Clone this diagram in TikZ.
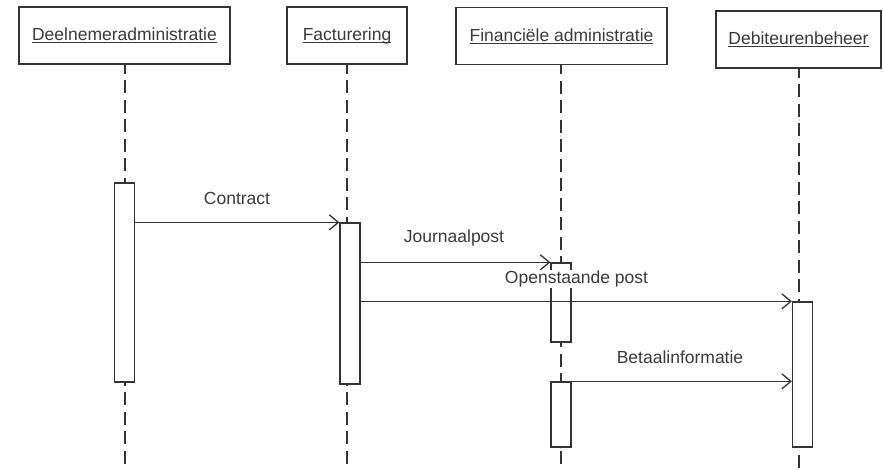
\documentclass[tikz,border=0pt]{standalone}
\usepackage{fontspec}
\setmainfont{Liberation Sans}
\usetikzlibrary{arrows.meta}
\definecolor{ink}{HTML}{333333}
\definecolor{txt}{HTML}{3A3A3A}
\newcommand\ulx[1]{\setbox0\hbox{#1}\rlap{\rule[-2.6pt]{\wd0}{1pt}}\box0}
\tikzset{
  head/.style={draw=ink, line width=1.3pt, fill=white, minimum height=57pt, inner sep=0pt, text=txt, font=\fontsize{17.5}{20}\selectfont},
  life/.style={draw=ink, line width=1.4pt, dash pattern=on 13pt off 6.5pt, dash phase=4pt},
  act/.style={draw=ink, line width=1.3pt, fill=white, minimum width=20pt, inner sep=0pt},
  msg/.style={draw=ink, line width=1.3pt, -{Straight Barb[length=9pt,width=15pt,line width=1.3pt]}},
  lbl/.style={text=txt, font=\fontsize{17.5}{20}\selectfont, inner sep=1pt}
}
\begin{document}
\begin{tikzpicture}[x=1pt,y=-1pt]
\useasboundingbox (0,0) rectangle (883,470);
% header boxes
\node[head, minimum width=211pt] (h1) at (124.5,35.5) {\ulx{Deelnemeradministratie}};
\node[head, minimum width=120pt] (h2) at (347,35.5) {\ulx{Facturering}};
\node[head, minimum width=211pt] (h3) at (561.5,36) {\ulx{Financiële administratie}};
\node[head, minimum width=165pt] (h4) at (798.5,39.5) {\ulx{Debiteurenbeheer}};
% lifeline ends
\coordinate (e1) at (125,470);
\coordinate (e2) at (347,470);
\coordinate (e3) at (561,470);
\coordinate (e4) at (799,470);
\draw[life] (h1.south -| e1) -- (e1);
\draw[life] (h2.south -| e2) -- (e2);
\draw[life] (h3.south -| e3) -- (e3);
\draw[life] (h4.south -| e4) -- (e4);
% activations
\node[act, minimum height=199pt] (a1) at (124.5,282.5) {};
\node[act, minimum height=161pt] (a2) at (350,303.5) {};
\node[act, minimum height=79pt] (a3) at (561,302.5) {};
\node[act, minimum height=145pt] (a4) at (802.5,374.5) {};
\node[act, minimum height=65pt] (a5) at (561,414.5) {};
% messages
\draw[msg] (a1.east |- a2.north) -- (a2.north west);
\draw[msg] (a2.east |- a3.north) -- (a3.north west);
\draw[msg] (a2.east |- a4.north) -- (a4.north west);
\draw[msg] (a5.north east) -- (a4.west |- a5.north);
% labels
\node[lbl] (l1) at (237,198) {Contract};
\node[lbl] (l2) at (454,238) {Journaalpost};
\node[lbl, fill=white] (l3) at (576.5,279) {Openstaande post};
\node[lbl] (l4) at (680,357) {Betaalinformatie};
\end{tikzpicture}
\end{document}
